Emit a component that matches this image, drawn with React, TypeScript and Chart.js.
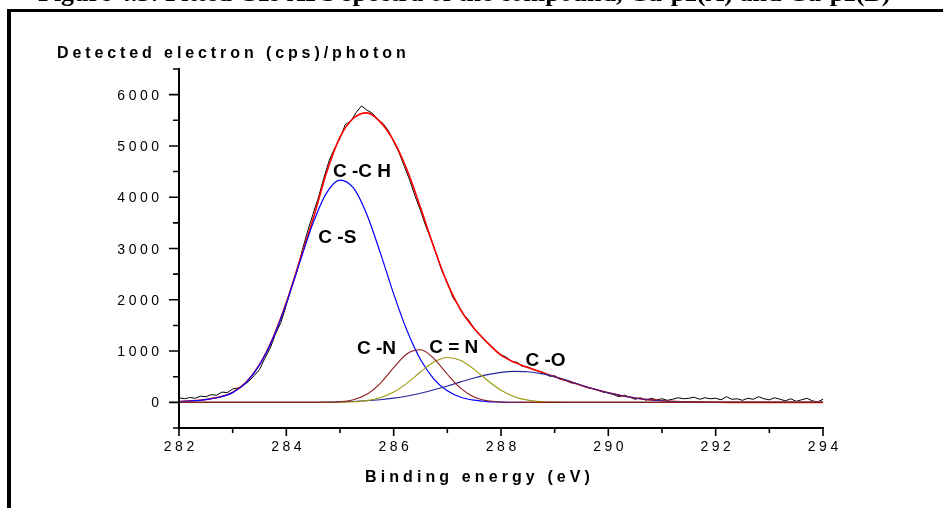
import { useEffect, useRef } from 'react';
import { Chart, registerables } from 'chart.js';

Chart.register(...registerables);

// Binding-energy grid (eV) for the fitted curves
const fitEnergy = [
  282, 282.25, 282.5, 282.75, 283, 283.25, 283.5, 283.75, 284, 284.25, 284.5, 284.75,
  285, 285.25, 285.5, 285.75, 286, 286.25, 286.5, 286.75, 287, 287.25, 287.5, 287.75,
  288, 288.25, 288.5, 288.75, 289, 289.25, 289.5, 289.75, 290, 290.25, 290.5, 290.75,
  291, 291.25, 291.5, 291.75, 292, 292.25, 292.5, 292.75, 293, 293.25, 293.5, 293.75, 294,
];

// Overall fit envelope
const fitTotal = [
  15, 30, 57, 103, 195, 392, 735, 1255, 1945, 2760, 3580, 4480,
  5170, 5540, 5645, 5470, 5100, 4530, 3800, 3020, 2320, 1800, 1440, 1160,
  920, 780, 680, 590, 500, 415, 330, 255, 185, 128, 86, 53,
  31, 17, 9, 5, 2, 0, 0, 0, 0, 0, 0, 0, 0,
];

// Component C-S
const compCS = [
  15, 28, 55, 100, 190, 385, 730, 1245, 1930, 2730, 3500, 4085,
  4335, 4180, 3665, 2920, 2115, 1395, 835, 455, 225, 100, 42, 16,
  6, 2, 0, 0, 0, 0, 0, 0, 0, 0, 0, 0,
  0, 0, 0, 0, 0, 0, 0, 0, 0, 0, 0, 0, 0,
];

// Component C-N
const compCN = [
  0, 0, 0, 0, 0, 0, 0, 0, 0, 0, 0, 2,
  13, 51, 157, 371, 675, 948, 1025, 854, 548, 272, 104, 30,
  7, 1, 0, 0, 0, 0, 0, 0, 0, 0, 0, 0,
  0, 0, 0, 0, 0, 0, 0, 0, 0, 0, 0, 0, 0,
];

// Component C=N
const compCdN = [
  0, 0, 0, 0, 0, 0, 0, 0, 0, 0, 0, 0,
  3, 11, 34, 90, 200, 376, 592, 785, 874, 818, 644, 426,
  237, 111, 43, 14, 4, 1, 0, 0, 0, 0, 0, 0,
  0, 0, 0, 0, 0, 0, 0, 0, 0, 0, 0, 0, 0,
];

// Component C-O
const compCO = [
  0, 0, 0, 0, 0, 0, 0, 0, 1, 2, 3, 5,
  10, 18, 31, 52, 82, 124, 178, 244, 319, 399, 475, 540,
  585, 604, 596, 560, 500, 420, 335, 255, 185, 128, 85, 52,
  30, 16, 8, 4, 2, 0, 0, 0, 0, 0, 0, 0, 0,
];

// Measured spectrum
const rawEnergy = [
  282.0, 282.1, 282.2, 282.3, 282.4, 282.5, 282.6, 282.7, 282.8, 282.9,
  283.0, 283.1, 283.2, 283.3, 283.4, 283.5, 283.6, 283.7, 283.8, 283.9,
  284.0, 284.1, 284.2, 284.3, 284.4, 284.5, 284.6, 284.7, 284.8, 284.9,
  285.0, 285.1, 285.2, 285.3, 285.4, 285.5, 285.6, 285.7, 285.8, 285.9,
  286.0, 286.1, 286.2, 286.3, 286.4, 286.5, 286.6, 286.7, 286.8, 286.9,
  287.0, 287.1, 287.2, 287.3, 287.4, 287.5, 287.6, 287.7, 287.8, 287.9,
  288.0, 288.1, 288.2, 288.3, 288.4, 288.5, 288.6, 288.7, 288.8, 288.9,
  289.0, 289.1, 289.2, 289.3, 289.4, 289.5, 289.6, 289.7, 289.8, 289.9,
  290.0, 290.1, 290.2, 290.3, 290.4, 290.5, 290.6, 290.7, 290.8, 290.9,
  291.0, 291.1, 291.2, 291.3, 291.4, 291.5, 291.6, 291.7, 291.8, 291.9,
  292.0, 292.1, 292.2, 292.3, 292.4, 292.5, 292.6, 292.7, 292.8, 292.9,
  293.0, 293.1, 293.2, 293.3, 293.4, 293.5, 293.6, 293.7, 293.8, 293.9,
  294.0,
];
const rawCounts = [
  90, 70, 95, 80, 120, 110, 150, 140, 200, 190,
  260, 280, 330, 410, 520, 640, 860, 1060, 1340, 1560,
  1900, 2250, 2560, 2980, 3350, 3680, 4000, 4380, 4720, 4950,
  5150, 5420, 5480, 5650, 5780, 5700, 5640, 5520, 5440, 5300,
  5080, 4870, 4600, 4330, 4020, 3740, 3430, 3180, 2880, 2560,
  2340, 2050, 1900, 1720, 1600, 1440, 1330, 1200, 1120, 1010,
  930, 880, 800, 780, 700, 690, 640, 610, 580, 510,
  520, 450, 430, 380, 370, 330, 290, 270, 240, 200,
  190, 150, 110, 140, 100, 60, 90, 40, 80, 50,
  70, 40, 60, 90, 70, 80, 100, 60, 90, 70,
  80, 50, 110, 60, 70, 40, 80, 60, 110, 70,
  50, 90, 60, 30, 70, 20, 50, 80, 30, 10,
  60,
];

// Axis ticks
const xMajorTicks = [282, 284, 286, 288, 290, 292, 294];
const xMinorTicks = [283, 285, 287, 289, 291, 293];
const yMajorTicks = [0, 1000, 2000, 3000, 4000, 5000, 6000];
const yMinorTicks = [-500, 500, 1500, 2500, 3500, 4500, 5500, 6500];

// Peak annotations, anchored at the text baseline centre (eV, counts)
const peakLabels = ['C -C H', 'C -S', 'C -N', 'C = N', 'C -O'];
const peakLabelEnergy = [285.41, 284.95, 285.68, 287.12, 288.83];
const peakLabelCounts = [4394, 3107, 943, 968, 715];

const titleText = 'Figure 4.3: Fitted C1s XPS spectra of the compound, Cu-pz(A) and Cu-pz(B)';
const xTitle = 'Binding energy (eV)';
const yTitle = 'Detected electron (cps)/photon';

const SANS = '"Liberation Sans", Arial, sans-serif';

function toPoints(xs: number[], ys: number[]) {
  return xs.map((x, i) => ({ x, y: ys[i] }));
}

function spacedText(
  ctx: CanvasRenderingContext2D,
  text: string,
  x: number,
  y: number,
  spacing: number,
  align: 'left' | 'center' | 'right',
) {
  (ctx as any).letterSpacing = '0px';
  const w = ctx.measureText(text).width + spacing * (text.length - 1);
  let sx = x;
  if (align === 'center') sx = x - w / 2;
  if (align === 'right') sx = x - w;
  (ctx as any).letterSpacing = `${spacing}px`;
  ctx.textAlign = 'left';
  ctx.fillText(text, sx, y);
  (ctx as any).letterSpacing = '0px';
}

const decorPlugin = {
  id: 'xpsDecor',
  afterDraw(chart: any) {
    const { ctx } = chart;
    const xs = chart.scales.x;
    const ys = chart.scales.y;
    ctx.save();
    ctx.fillStyle = '#000';
    ctx.strokeStyle = '#000';

    // page heading (runs off the top edge) and frame
    ctx.font = 'bold 26px "Liberation Serif", "Times New Roman", serif';
    ctx.textBaseline = 'alphabetic';
    ctx.textAlign = 'left';
    ctx.fillText(titleText, 38, 0.5);
    ctx.fillRect(7, 9, 943, 3);
    ctx.fillRect(7, 9, 4, 499);

    const left = xs.getPixelForValue(282);
    const right = xs.getPixelForValue(294);
    const top = ys.getPixelForValue(6500);
    const bottom = ys.getPixelForValue(-500);

    // axis lines
    ctx.lineWidth = 2;
    ctx.lineCap = 'square';
    ctx.beginPath();
    ctx.moveTo(left, top);
    ctx.lineTo(left, bottom);
    ctx.lineTo(right, bottom);
    ctx.stroke();

    // ticks
    ctx.lineWidth = 1.6;
    ctx.lineCap = 'butt';
    ctx.beginPath();
    yMajorTicks.forEach((v) => {
      const py = ys.getPixelForValue(v);
      ctx.moveTo(left - 10, py);
      ctx.lineTo(left, py);
    });
    yMinorTicks.forEach((v) => {
      const py = ys.getPixelForValue(v);
      ctx.moveTo(left - 6, py);
      ctx.lineTo(left, py);
    });
    xMajorTicks.forEach((v) => {
      const px = xs.getPixelForValue(v);
      ctx.moveTo(px, bottom);
      ctx.lineTo(px, bottom + 8);
    });
    xMinorTicks.forEach((v) => {
      const px = xs.getPixelForValue(v);
      ctx.moveTo(px, bottom);
      ctx.lineTo(px, bottom + 5);
    });
    ctx.stroke();

    // tick labels
    ctx.font = `14px ${SANS}`;
    ctx.textBaseline = 'alphabetic';
    yMajorTicks.forEach((v) => {
      spacedText(ctx, String(v), left - 20, ys.getPixelForValue(v) + 5, 3.5, 'right');
    });
    xMajorTicks.forEach((v) => {
      spacedText(ctx, String(v), xs.getPixelForValue(v), bottom + 23, 3.5, 'center');
    });

    // axis titles
    ctx.font = `bold 16px ${SANS}`;
    spacedText(ctx, yTitle, 57, 57.5, 3.9, 'left');
    spacedText(ctx, xTitle, 365, 482, 4.1, 'left');

    // peak assignments
    ctx.font = `bold 19px ${SANS}`;
    peakLabels.forEach((t, i) => {
      ctx.textAlign = 'center';
      ctx.fillText(t, xs.getPixelForValue(peakLabelEnergy[i]), ys.getPixelForValue(peakLabelCounts[i]));
    });

    ctx.restore();
  },
};

export default function App() {
  const canvasRef = useRef<HTMLCanvasElement | null>(null);

  useEffect(() => {
    const canvas = canvasRef.current;
    if (!canvas) return;
    const smooth = { cubicInterpolationMode: 'monotone' as const, pointRadius: 0, fill: false };
    const chart = new Chart(canvas, {
      type: 'line',
      data: {
        datasets: [
          { label: 'C -N', data: toPoints(fitEnergy, compCN), borderColor: '#8c1c1c', borderWidth: 1.1, ...smooth },
          { label: 'C = N', data: toPoints(fitEnergy, compCdN), borderColor: '#9c9a10', borderWidth: 1.1, ...smooth },
          { label: 'C -O', data: toPoints(fitEnergy, compCO), borderColor: '#26269a', borderWidth: 1.1, ...smooth },
          { label: 'C -S', data: toPoints(fitEnergy, compCS), borderColor: '#0000ff', borderWidth: 1.2, ...smooth },
          { label: 'Fit', data: toPoints(fitEnergy, fitTotal), borderColor: '#ff0000', borderWidth: 1.6, ...smooth },
          { label: 'Data', data: toPoints(rawEnergy, rawCounts), borderColor: '#000000', borderWidth: 1, pointRadius: 0, tension: 0, fill: false },
        ],
      },
      options: {
        animation: false,
        responsive: false,
        maintainAspectRatio: false,
        layout: { padding: { left: 179, right: 120, top: 69, bottom: 80 } },
        scales: {
          x: { type: 'linear', min: 282, max: 294, display: false },
          y: { type: 'linear', min: -500, max: 6500, display: false },
        },
        plugins: { legend: { display: false }, tooltip: { enabled: false }, title: { display: false } },
      },
      plugins: [decorPlugin],
    });
    return () => chart.destroy();
  }, []);

  return (
    <div style={{ position: 'absolute', left: 0, top: 0, width: 943, height: 508, overflow: 'hidden', background: '#fff' }}>
      <canvas ref={canvasRef} width={943} height={508} style={{ display: 'block' }} />
    </div>
  );
}
